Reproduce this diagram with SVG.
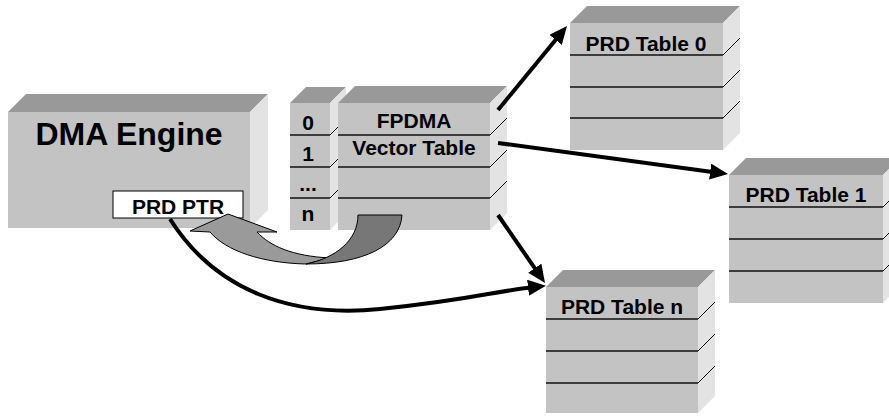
<svg xmlns="http://www.w3.org/2000/svg" width="889" height="417" viewBox="0 0 889 417">
<style>
.front{fill:#c3c3c3}
.top{fill:#999999}
.side{fill:#e3e3e3}
.row{stroke:#3c3c3c;stroke-width:2}
.diag{stroke:#000;stroke-width:1}
.t{font-family:"Liberation Sans",Arial,sans-serif;font-weight:bold;font-size:21px;fill:#000;text-anchor:middle}
.conn{fill:none;stroke:#000;stroke-width:4}
</style>
<defs>
<marker id="ah" markerUnits="userSpaceOnUse" viewBox="0 0 18 16" markerWidth="18" markerHeight="16" refX="6" refY="8" orient="auto">
<path d="M0,0 L18,8 L0,16 z" fill="#000"/>
</marker>
</defs>
<rect width="889" height="417" fill="#fff"/>

<g id="dma-engine">
<polygon class="top" points="8,112 26,94 268,94 250,112"/>
<polygon class="side" points="250,112 268,94 268,210 250,228"/>
<rect class="front" x="8" y="112" width="242" height="116"/>
<text class="t" x="129" y="145" style="font-size:32px">DMA Engine</text>
</g>

<g id="prd-ptr">
<rect x="113" y="191" width="130" height="27" fill="#fff" stroke="#000" stroke-width="1"/>
<text class="t" x="178" y="214">PRD PTR</text>
</g>

<g id="index-column">
<polygon class="top" points="290,103 306,87 346,87 330,103"/>
<polygon class="side" points="330,103 346,87 346,214 330,230"/>
<rect class="front" x="290" y="103" width="40" height="127"/>
<line class="row" x1="290" y1="135" x2="330" y2="135"/>
<line class="row" x1="290" y1="167" x2="330" y2="167"/>
<line class="row" x1="290" y1="198" x2="330" y2="198"/>
<line class="diag" x1="330" y1="135" x2="346" y2="119"/>
<line class="diag" x1="330" y1="167" x2="346" y2="151"/>
<line class="diag" x1="330" y1="198" x2="346" y2="182"/>
<text class="t" x="308" y="130">0</text>
<text class="t" x="308" y="161">1</text>
<text class="t" x="308" y="191">...</text>
<text class="t" x="308" y="221">n</text>
</g>

<g id="vector-table">
<polygon class="top" points="338,103 355,86 507,86 490,103"/>
<polygon class="side" points="490,103 507,86 507,213 490,230"/>
<rect class="front" x="338" y="103" width="152" height="127"/>
<line class="row" x1="338" y1="135" x2="490" y2="135"/>
<line class="row" x1="338" y1="167" x2="490" y2="167"/>
<line class="row" x1="338" y1="198" x2="490" y2="198"/>
<line class="diag" x1="490" y1="135" x2="507" y2="118"/>
<line class="diag" x1="490" y1="167" x2="507" y2="150"/>
<line class="diag" x1="490" y1="198" x2="507" y2="181"/>
<text class="t" x="414" y="128">FPDMA</text>
<text class="t" x="414" y="155">Vector Table</text>
</g>

<g id="prd-table-0">
<polygon class="top" points="570,23 587,6 740,6 723,23"/>
<polygon class="side" points="723,23 740,6 740,133 723,150"/>
<rect class="front" x="570" y="23" width="153" height="127"/>
<line class="row" x1="570" y1="55" x2="723" y2="55"/>
<line class="row" x1="570" y1="87" x2="723" y2="87"/>
<line class="row" x1="570" y1="118" x2="723" y2="118"/>
<line class="diag" x1="723" y1="55" x2="740" y2="38"/>
<line class="diag" x1="723" y1="87" x2="740" y2="70"/>
<line class="diag" x1="723" y1="118" x2="740" y2="101"/>
<text class="t" x="646" y="51">PRD Table 0</text>
</g>

<g id="prd-table-1">
<polygon class="top" points="729,175 746,158 900,158 883,175"/>
<polygon class="side" points="883,175 900,158 900,286 883,303"/>
<rect class="front" x="729" y="175" width="154" height="128"/>
<line class="row" x1="729" y1="207" x2="883" y2="207"/>
<line class="row" x1="729" y1="239" x2="883" y2="239"/>
<line class="row" x1="729" y1="271" x2="883" y2="271"/>
<line class="diag" x1="883" y1="207" x2="900" y2="190"/>
<line class="diag" x1="883" y1="239" x2="900" y2="222"/>
<line class="diag" x1="883" y1="271" x2="900" y2="254"/>
<text class="t" x="806" y="202">PRD Table 1</text>
</g>

<g id="prd-table-n">
<polygon class="top" points="546,287 563,270 715,270 698,287"/>
<polygon class="side" points="698,287 715,270 715,396 698,413"/>
<rect class="front" x="546" y="287" width="152" height="126"/>
<line class="row" x1="546" y1="319" x2="698" y2="319"/>
<line class="row" x1="546" y1="351" x2="698" y2="351"/>
<line class="row" x1="546" y1="383" x2="698" y2="383"/>
<line class="diag" x1="698" y1="319" x2="715" y2="302"/>
<line class="diag" x1="698" y1="351" x2="715" y2="334"/>
<line class="diag" x1="698" y1="383" x2="715" y2="366"/>
<text class="t" x="622" y="314">PRD Table n</text>
</g>

<g id="connectors">
<path class="conn" d="M498,110 L559.4,35.3" marker-end="url(#ah)"/>
<path class="conn" d="M498,143 L716.1,172.4" marker-end="url(#ah)"/>
<path class="conn" d="M498,215 L538.2,273.1" marker-end="url(#ah)"/>
<path class="conn" d="M170,219 C 215,290 290,318 380,309 S 490,292 534,287" marker-end="url(#ah)"/>
<path d="M306,264 C 262,263 226,251 210,232 L190,231 L228,214 L277,232 L257,232 C 270,246 292,256 330,258 Z" fill="#9a9a9a" stroke="#000" stroke-width="1"/>
<path d="M358,215 L402,215 C 400,246 364,264 306,264 C 336,258 358,240 358,215 Z" fill="#777777" stroke="#000" stroke-width="1"/>
</g>
</svg>
